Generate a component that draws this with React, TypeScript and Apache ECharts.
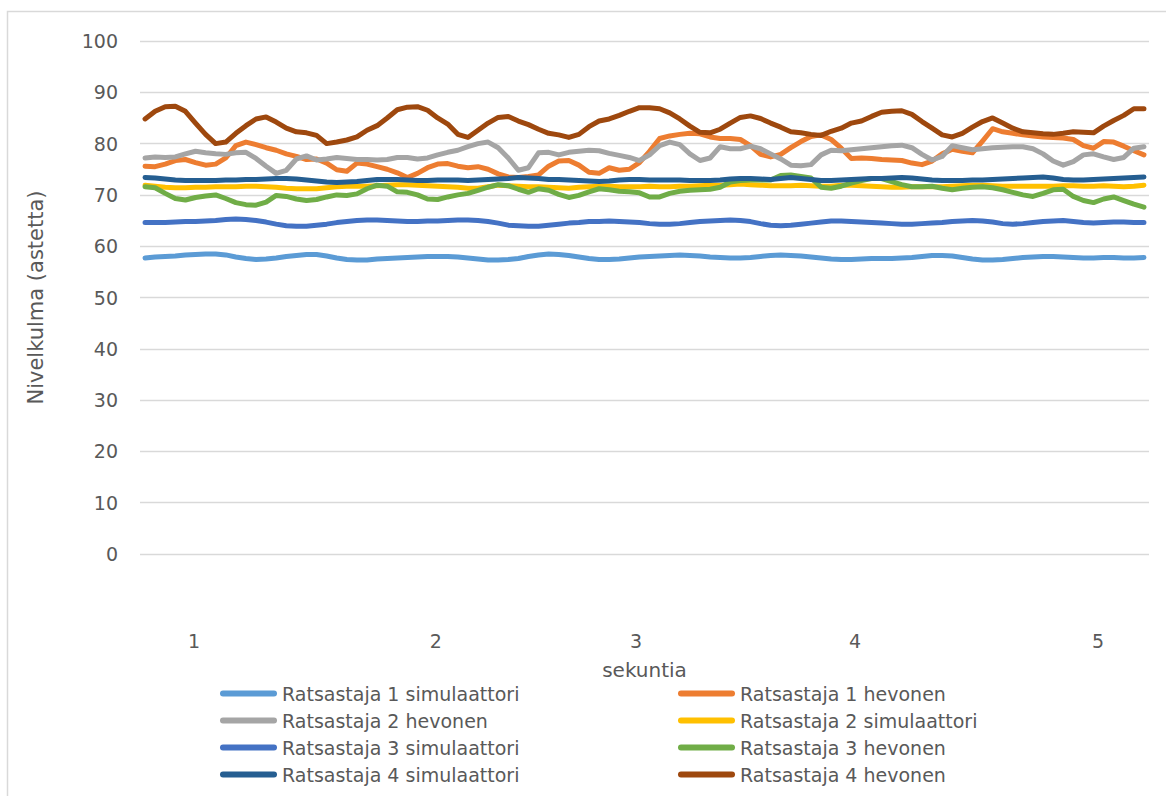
import React, { useEffect, useRef } from "react";
import * as echarts from "echarts";

// Joint angle samples (degrees), one value per sample step
const rider1Sim = [57.7,57.9,58.0,58.1,58.3,58.4,58.5,58.5,58.3,57.9,57.6,57.4,57.5,57.7,58.0,58.2,58.4,58.4,58.1,57.7,57.4,57.3,57.3,57.5,57.6,57.7,57.8,57.9,58.0,58.0,58.0,57.9,57.7,57.5,57.3,57.3,57.4,57.6,58.0,58.3,58.5,58.4,58.2,57.9,57.6,57.4,57.4,57.5,57.7,57.9,58.0,58.1,58.2,58.3,58.2,58.1,57.9,57.8,57.7,57.7,57.8,58.0,58.2,58.3,58.2,58.1,57.9,57.7,57.5,57.4,57.4,57.5,57.6,57.6,57.6,57.7,57.8,58.0,58.2,58.2,58.1,57.8,57.5,57.3,57.3,57.4,57.6,57.8,57.9,58.0,58.0,57.9,57.8,57.7,57.7,57.8,57.8,57.7,57.7,57.8];
const rider1Horse = [75.6,75.5,76.0,76.7,76.9,76.3,75.8,76.0,77.2,79.6,80.3,79.8,79.2,78.7,78.0,77.5,76.9,77.0,76.2,74.9,74.6,76.2,76.0,75.5,75.0,74.3,73.4,74.2,75.3,76.0,76.1,75.6,75.3,75.5,75.0,74.1,73.5,73.4,73.6,73.9,75.6,76.6,76.7,75.8,74.4,74.2,75.3,74.8,75.0,76.3,78.5,81.0,81.5,81.8,82.0,81.9,81.3,81.0,81.0,80.8,79.6,77.9,77.4,77.9,79.2,80.4,81.4,81.7,80.8,79.1,77.1,77.2,77.1,76.9,76.8,76.7,76.2,75.9,76.6,78.0,78.9,78.5,78.2,80.5,82.9,82.3,82.0,81.7,81.5,81.3,81.2,81.1,80.8,79.6,79.1,80.4,80.3,79.5,78.6,77.8];
const rider2Horse = [77.2,77.4,77.3,77.4,78.0,78.5,78.2,78.0,77.9,78.2,78.3,77.1,75.6,74.2,74.8,77.0,77.6,76.8,77.0,77.3,77.1,76.9,76.9,76.8,76.9,77.3,77.3,77.0,77.2,77.8,78.3,78.7,79.4,80.0,80.3,79.2,77.2,74.8,75.3,78.2,78.3,77.8,78.3,78.5,78.7,78.6,78.1,77.7,77.3,76.7,77.8,79.6,80.3,79.8,78.0,76.7,77.2,79.4,79.0,79.0,79.5,79.0,78.0,77.0,75.8,75.7,75.9,77.8,78.7,78.6,78.8,79.0,79.2,79.4,79.6,79.7,79.2,77.9,76.8,77.5,79.6,79.2,78.8,79.0,79.2,79.3,79.4,79.4,79.0,78.0,76.6,75.8,76.5,77.8,78.0,77.4,76.9,77.3,79.1,79.4];
const rider2Sim = [71.9,71.7,71.5,71.4,71.4,71.5,71.5,71.6,71.6,71.6,71.7,71.7,71.6,71.5,71.3,71.2,71.2,71.2,71.4,71.6,71.7,71.7,71.7,71.8,71.9,72.0,72.0,71.9,71.8,71.7,71.6,71.5,71.3,71.3,71.6,71.9,71.8,71.7,71.6,71.6,71.5,71.4,71.3,71.5,71.6,71.7,71.7,71.6,71.6,71.6,71.7,71.6,71.6,71.7,71.7,71.8,71.9,71.9,72.0,72.1,72.0,71.9,71.8,71.8,71.8,71.9,71.8,71.7,71.7,71.9,71.9,71.8,71.7,71.6,71.5,71.5,71.6,71.6,71.6,71.6,71.7,71.8,71.9,71.9,71.8,71.7,71.7,71.7,71.7,71.7,71.7,71.8,71.8,71.7,71.7,71.8,71.7,71.6,71.7,71.9];
const rider3Sim = [64.6,64.6,64.6,64.7,64.8,64.8,64.9,65.0,65.2,65.3,65.2,65.0,64.7,64.3,64.0,63.9,63.9,64.1,64.3,64.6,64.8,65.0,65.1,65.1,65.0,64.9,64.8,64.8,64.9,64.9,65.0,65.1,65.1,65.0,64.8,64.5,64.1,64.0,63.9,63.9,64.1,64.3,64.5,64.6,64.8,64.8,64.9,64.8,64.7,64.6,64.4,64.3,64.3,64.4,64.6,64.8,64.9,65.0,65.1,65.0,64.8,64.4,64.1,64.0,64.1,64.3,64.5,64.7,64.9,64.9,64.8,64.7,64.6,64.5,64.4,64.3,64.3,64.4,64.5,64.6,64.8,64.9,65.0,64.9,64.7,64.4,64.3,64.4,64.6,64.8,64.9,65.0,64.8,64.6,64.5,64.6,64.7,64.7,64.6,64.6];
const rider3Horse = [71.6,71.4,70.3,69.3,69.0,69.5,69.8,70.0,69.3,68.5,68.1,68.0,68.6,69.9,69.7,69.2,68.9,69.1,69.6,70.0,69.9,70.2,71.2,71.9,71.7,70.6,70.5,70.0,69.2,69.1,69.6,70.0,70.3,70.9,71.5,72.0,71.8,71.1,70.5,71.2,70.9,70.1,69.5,69.9,70.6,71.2,71.0,70.7,70.6,70.4,69.6,69.6,70.3,70.7,70.9,71.0,71.1,71.5,72.5,72.8,72.9,72.9,72.9,73.8,73.9,73.6,73.3,71.5,71.3,71.7,72.3,72.8,73.2,73.2,72.6,72.0,71.6,71.6,71.7,71.3,71.0,71.3,71.5,71.6,71.4,71.0,70.5,70.0,69.7,70.3,71.0,71.1,69.7,68.9,68.5,69.2,69.6,68.9,68.2,67.6];
const rider4Sim = [73.4,73.3,73.1,72.9,72.8,72.8,72.8,72.8,72.9,72.9,73.0,73.0,73.1,73.2,73.2,73.1,72.9,72.7,72.5,72.4,72.5,72.6,72.8,73.0,73.0,73.0,72.9,72.8,72.8,72.9,72.9,72.9,72.8,72.9,73.0,73.1,73.2,73.4,73.3,73.2,73.0,73.0,72.9,72.8,72.7,72.6,72.7,72.9,73.0,73.0,72.9,72.9,72.9,72.9,72.8,72.8,72.8,72.9,73.1,73.2,73.2,73.1,73.0,73.2,73.4,73.2,73.0,72.8,72.8,72.9,73.0,73.1,73.2,73.2,73.3,73.4,73.3,73.1,72.9,72.8,72.8,72.8,72.9,72.9,73.0,73.1,73.2,73.3,73.4,73.5,73.3,73.0,72.9,72.9,73.0,73.1,73.2,73.3,73.4,73.5];
const rider4Horse = [84.8,86.3,87.2,87.3,86.3,84.0,81.8,80.0,80.3,82.0,83.5,84.8,85.2,84.2,83.0,82.3,82.1,81.6,80.0,80.3,80.7,81.3,82.6,83.5,85.0,86.6,87.1,87.2,86.5,85.0,83.8,81.8,81.2,82.6,84.0,85.1,85.3,84.4,83.7,82.8,82.0,81.7,81.2,81.8,83.3,84.4,84.8,85.5,86.3,87.0,87.0,86.8,86.0,84.8,83.4,82.2,82.1,82.8,84.0,85.1,85.4,84.9,84.0,83.2,82.3,82.1,81.8,81.6,82.4,83.0,84.0,84.4,85.3,86.1,86.3,86.4,85.7,84.3,83.0,81.7,81.3,82.0,83.2,84.3,85.0,84.0,83.0,82.3,82.1,81.9,81.8,82.0,82.3,82.2,82.1,83.4,84.5,85.5,86.8,86.8];

const seriesNames = [
  "Ratsastaja 1 simulaattori",
  "Ratsastaja 1 hevonen",
  "Ratsastaja 2 hevonen",
  "Ratsastaja 2 simulaattori",
  "Ratsastaja 3 simulaattori",
  "Ratsastaja 3 hevonen",
  "Ratsastaja 4 simulaattori",
  "Ratsastaja 4 hevonen",
];
const seriesValues = [rider1Sim, rider1Horse, rider2Horse, rider2Sim, rider3Sim, rider3Horse, rider4Sim, rider4Horse];
const seriesColors = ["#5B9BD5", "#ED7D31", "#A5A5A5", "#FFC000", "#4472C4", "#70AD47", "#255E91", "#9E480E"];

// Second marks along the sample axis
const secondLabels = ["1", "2", "3", "4", "5"];
const secondPositions = [4.86, 28.82, 48.65, 70.36, 94.45];

const yTicks = { min: 0, max: 100, step: 10 };

const FONT = "'DejaVu Sans', sans-serif";
const TEXT = "#595959";
const LEGEND_ICON = "path://M3 0H54A3 3 0 0 1 54 6H3A3 3 0 0 1 3 0Z";

export default function App() {
  const ref = useRef<HTMLDivElement>(null);

  useEffect(() => {
    if (!ref.current) return;
    const chart = echarts.init(ref.current, null, { renderer: "svg" });
    const sampleCount = rider1Sim.length;

    const series = seriesNames.map((name, s) => ({
      name,
      type: "line",
      data: seriesValues[s].map((v, i) => [i, v]),
      symbol: "none",
      color: seriesColors[s],
      lineStyle: { width: 5, color: seriesColors[s], cap: "round", join: "round" },
    }));

    const legendBase = {
      orient: "vertical",
      top: 680,
      height: 112,
      padding: 0,
      itemWidth: 57,
      itemHeight: 6,
      itemGap: 0,
      icon: LEGEND_ICON,
      textStyle: { fontFamily: FONT, fontSize: 19, color: TEXT, lineHeight: 27 },
    };

    chart.setOption({
      animation: false,
      backgroundColor: "#ffffff",
      grid: { left: 140, right: 17, top: 41, bottom: 242, containLabel: false },
      xAxis: {
        type: "value",
        min: -0.5,
        max: sampleCount - 0.5,
        name: "sekuntia",
        nameLocation: "middle",
        nameGap: 106,
        nameTextStyle: { fontFamily: FONT, fontSize: 20, color: TEXT, verticalAlign: "top" },
        axisLine: { show: false },
        axisTick: { show: false },
        splitLine: { show: false },
        axisLabel: {
          customValues: secondPositions,
          margin: 77,
          fontFamily: FONT,
          fontSize: 19,
          color: TEXT,
          formatter: (v: number) => {
            const k = secondPositions.findIndex((p) => Math.abs(p - v) < 0.01);
            return k >= 0 ? secondLabels[k] : "";
          },
        },
      },
      yAxis: {
        type: "value",
        min: yTicks.min,
        max: yTicks.max,
        interval: yTicks.step,
        name: "Nivelkulma (astetta)",
        nameLocation: "middle",
        nameGap: 94,
        nameTextStyle: { fontFamily: FONT, fontSize: 21, color: TEXT },
        axisLine: { show: false },
        axisTick: { show: false },
        axisLabel: { margin: 22, fontFamily: FONT, fontSize: 19, color: TEXT },
        splitLine: { lineStyle: { color: "#D9D9D9", width: 1.3 } },
      },
      legend: [
        { ...legendBase, left: 220, data: [seriesNames[0], seriesNames[2], seriesNames[4], seriesNames[6]] },
        { ...legendBase, left: 678, data: [seriesNames[1], seriesNames[3], seriesNames[5], seriesNames[7]] },
      ],
      graphic: [
        {
          type: "rect",
          shape: { x: 7.5, y: 11.5, width: 1400, height: 1000 },
          style: { fill: "none", stroke: "#D9D9D9", lineWidth: 1.5 },
          silent: true,
        },
      ],
      series,
    });

    return () => chart.dispose();
  }, []);

  return (
    <div
      ref={ref}
      style={{ position: "absolute", left: 0, top: 0, width: 1166, height: 796 }}
    />
  );
}
